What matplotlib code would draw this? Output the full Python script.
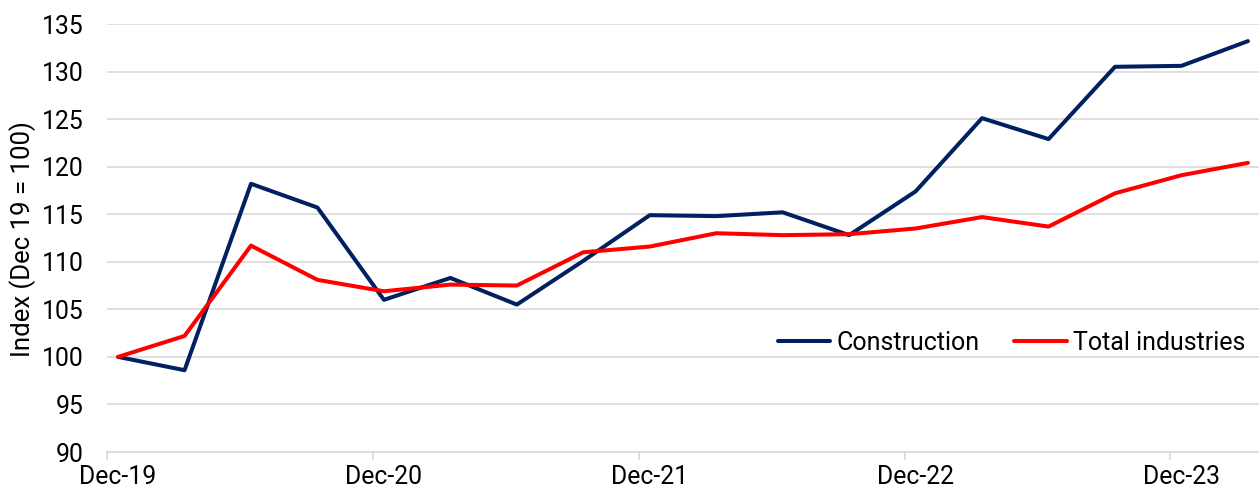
import matplotlib
matplotlib.use("Agg")
import matplotlib.pyplot as plt
import numpy as np

plt.rcParams['font.family'] = ['Roboto', 'DejaVu Sans']

quarters = ["Dec-19", "Mar-20", "Jun-20", "Sep-20", "Dec-20", "Mar-21", "Jun-21", "Sep-21",
            "Dec-21", "Mar-22", "Jun-22", "Sep-22", "Dec-22", "Mar-23", "Jun-23", "Sep-23",
            "Dec-23", "Mar-24"]
construction = [100.0, 98.6, 118.2, 115.7, 106.0, 108.3, 105.5, 110.1, 114.9, 114.8,
                115.2, 112.8, 117.4, 125.1, 122.9, 130.5, 130.6, 133.2]
total_industries = [100.0, 102.2, 111.7, 108.1, 106.9, 107.6, 107.5, 111.0, 111.6, 113.0,
                    112.8, 112.9, 113.5, 114.7, 113.7, 117.2, 119.1, 120.4]
tick_labels = ["Dec-19", "Dec-20", "Dec-21", "Dec-22", "Dec-23"]

months = np.arange(len(quarters)) * 3  # months since Dec-19

W, H = 1259, 495
fig = plt.figure(figsize=(W / 100, H / 100), dpi=100)
ax = fig.add_axes([107 / W, 43 / H, 1 - 107 / W, 428 / H])

ax.plot(months, construction, color="#002060", lw=2.9, label="Construction", solid_capstyle='round')
ax.plot(months, total_industries, color="#FF0000", lw=2.9, label="Total industries", solid_capstyle='round')

ax.set_xlim(-0.5, 51.5)
ax.set_ylim(90, 135)
ax.set_yticks(np.arange(90, 136, 5))
ax.yaxis.grid(True, color="#D9D9D9", lw=1.2)
ax.set_axisbelow(True)

label_pos = [quarters.index(t) * 3 for t in tick_labels]
ax.set_xticks(label_pos)
ax.set_xticklabels(tick_labels)
ax.set_xticks([p - 0.5 for p in label_pos], minor=True)
ax.tick_params(axis='x', which='major', length=0, pad=9, labelsize=17.8, colors='#000000')
ax.tick_params(axis='x', which='minor', length=6, width=1.2, color="#D9D9D9")
ax.tick_params(axis='y', length=0, pad=17, labelsize=17.8)

for s in ['top', 'right', 'left']:
    ax.spines[s].set_visible(False)
ax.spines['bottom'].set_color("#D9D9D9")
ax.spines['bottom'].set_linewidth(1.2)

fig.text(23 / W, 1 - 239 / H, "Index (Dec 19 = 100)", rotation=90, fontsize=18.5,
         ha='center', va='center')

ax.legend(loc='center right', bbox_to_anchor=(0.988, 0.255), ncol=2, frameon=False,
          fontsize=18, handlelength=2.1, handletextpad=0.24, columnspacing=1.4,
          borderpad=0, borderaxespad=0)

fig.savefig("out.png", dpi=100)
